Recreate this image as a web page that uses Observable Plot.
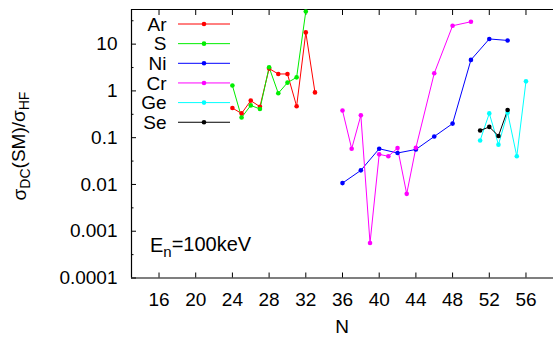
<!DOCTYPE html>
<html>
<head>
<meta charset="utf-8">
<script src="https://cdn.jsdelivr.net/npm/d3@7"></script>
<script src="https://cdn.jsdelivr.net/npm/@observablehq/plot@0.6"></script>
<style>
  html, body { margin: 0; padding: 0; background: #fff; }
  #chart svg { display: block; }
</style>
</head>
<body>
<div id="chart"></div>
<script>
// Series names and colours, in drawing / legend order
const seriesNames = ["Ar", "S", "Ni", "Cr", "Ge", "Se"];
const seriesColors = ["#ff0000", "#00ee00", "#0000ff", "#ff00ff", "#00ffff", "#000000"];

// Neutron number N and ratio sigma_DC(SM)/sigma_HF for each isotope chain
const arN = [24, 25, 26, 27, 28, 29, 30, 31, 32, 33];
const arV = [0.43, 0.33, 0.62, 0.46, 3.0, 2.3, 2.3, 0.47, 17.8, 0.93];

const sN = [24, 25, 26, 27, 28, 29, 30, 31, 32];
const sV = [1.3, 0.27, 0.49, 0.41, 3.2, 0.89, 1.5, 1.95, 50];

const niN = [36, 38, 40, 42, 44, 46, 48, 50, 52, 54];
const niV = [0.0107, 0.020, 0.058, 0.047, 0.056, 0.106, 0.20, 4.6, 12.9, 12.0];

const crN = [36, 37, 38, 39, 40, 41, 42, 43, 44, 46, 48, 50];
const crV = [0.38, 0.058, 0.30, 0.00056, 0.044, 0.040, 0.060, 0.0063, 0.061, 2.38, 24.7, 30.1];

const geN = [51, 52, 53, 54, 55, 56];
const geV = [0.087, 0.33, 0.071, 0.34, 0.040, 1.6];

const seN = [51, 52, 53, 54];
const seV = [0.142, 0.170, 0.109, 0.39];

// Axis ticks
const xTicks = [16, 20, 24, 28, 32, 36, 40, 44, 48, 52, 56];
const yTicks = [0.0001, 0.001, 0.01, 0.1, 1, 10];
const yTickLabels = ["0.0001", "0.001", "0.01", "0.1", "1", "10"];
const yMinorTicks = [0.000316, 0.00316, 0.0316, 0.316, 3.16, 31.6];

const xDomain = [13, 59];
const yDomain = [0.0001, 55];

const chains = [[arN, arV], [sN, sV], [niN, niV], [crN, crV], [geN, geV], [seN, seV]];
const data = chains.flatMap(([ns, vs], i) =>
  ns.map((n, j) => ({series: seriesNames[i], N: n, v: vs[j]}))
);

const font = "'Liberation Sans', Arial, Helvetica, sans-serif";
const fs = 19;
const yLabelOf = d => yTickLabels[yTicks.findIndex(t => Math.abs(Math.log10(t) - Math.log10(d)) < 1e-6)];

const plot = Plot.plot({
  width: 553,
  height: 338,
  marginLeft: 131,
  marginRight: 0,
  marginTop: 9,
  marginBottom: 60.5,
  style: {fontFamily: font, fontSize: fs + "px", color: "#000", background: "#fff", overflow: "visible"},
  x: {domain: xDomain},
  y: {type: "log", domain: yDomain},
  color: {domain: seriesNames, range: seriesColors},
  marks: [
    // frame (left, bottom, top)
    Plot.ruleX([xDomain[0]], {stroke: "#000", strokeWidth: 1.2}),
    Plot.ruleY(yDomain, {stroke: "#000", strokeWidth: 1.2}),
    // tick labels
    Plot.axisY({ticks: yTicks, tickFormat: yLabelOf, tickSize: 0, tickPadding: 14, label: null, fontSize: fs}),
    Plot.axisX({ticks: xTicks, tickFormat: d => String(d), tickSize: 0, tickPadding: 14, label: null, fontSize: fs}),
    // inward tick marks
    Plot.axisY({ticks: yTicks, tickFormat: () => "", tickSize: 5, dx: 5, label: null}),
    Plot.axisY({ticks: yMinorTicks, tickFormat: () => "", tickSize: 2.5, dx: 2.5, label: null}),
    Plot.axisX({ticks: xTicks, tickFormat: () => "", tickSize: 5, dy: -5, label: null}),
    Plot.axisX({anchor: "top", ticks: xTicks, tickFormat: () => "", tickSize: 5, dy: 5, label: null}),
    // data
    Plot.line(data, {x: "N", y: "v", z: "series", stroke: "series", strokeWidth: 1}),
    Plot.dot(data, {x: "N", y: "v", fill: "series", r: 2.3})
  ]
});

document.getElementById("chart").appendChild(plot);

const svg = d3.select(plot);

// Legend
const legend = svg.append("g").attr("font-family", font).attr("font-size", fs);
seriesNames.forEach((name, i) => {
  const y = 24 + i * 19.65;
  legend.append("text").attr("x", 166.5).attr("y", y).attr("dy", "0.35em")
    .attr("text-anchor", "end").attr("fill", "#000").text(name);
  legend.append("line").attr("x1", 178).attr("x2", 230).attr("y1", y).attr("y2", y)
    .attr("stroke", seriesColors[i]).attr("stroke-width", 1);
  legend.append("circle").attr("cx", 204).attr("cy", y).attr("r", 2.3).attr("fill", seriesColors[i]);
});

// Axis titles
svg.append("text")
  .attr("x", 342).attr("y", 333)
  .attr("text-anchor", "middle").attr("font-family", font).attr("font-size", fs)
  .text("N");

const yl = svg.append("text")
  .attr("transform", "translate(26,146) rotate(-90)")
  .attr("text-anchor", "middle").attr("font-family", font).attr("font-size", fs);
yl.append("tspan").text("σ");
yl.append("tspan").attr("dy", "0.3em").attr("font-size", 14).text("DC");
yl.append("tspan").attr("dy", "-0.3em").text("(SM)/σ");
yl.append("tspan").attr("dy", "0.3em").attr("font-size", 14).text("HF");

// Incident neutron energy note
const en = svg.append("text")
  .attr("x", 150).attr("y", 252)
  .attr("text-anchor", "start")
  .attr("font-family", font).attr("font-size", 20);
en.append("tspan").text("E");
en.append("tspan").attr("dy", "0.3em").attr("font-size", 15).text("n");
en.append("tspan").attr("dy", "-0.3em").text("=100keV");
</script>
</body>
</html>
